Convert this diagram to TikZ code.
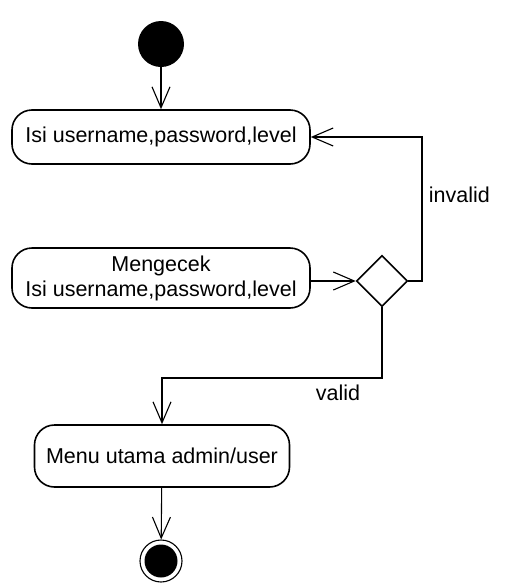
\documentclass[tikz,border=0pt]{standalone}
\usepackage{fontspec}
\setmainfont{Liberation Sans}
\usetikzlibrary{positioning,shapes.geometric,arrows.meta}

\begin{document}
\begin{tikzpicture}[x=1pt,y=-1pt,
                    actnode/.style={rectangle, rounded corners=20pt, draw=black, line width=1.6pt, minimum width=298pt, minimum height=54pt, align=center, font=\fontsize{21.5}{25}\selectfont},
                    decnode/.style={diamond, draw=black, line width=1.6pt, minimum size=51pt, inner sep=0pt},
                    flow/.style={line width=1.1pt, -{Straight Barb[length=21pt,width=18pt]}},
                    labelnode/.style={font=\fontsize{21.5}{25}\selectfont}]
                    \useasboundingbox (0,0) rectangle (519,584);
                    \node[circle, fill=black, minimum size=46pt, inner sep=0pt] (start) at (161,44) {};
                    \node[actnode] (isi) at (161,137) {Isi username,password,level};
                    \node[actnode, minimum height=60pt] (cek) at (161,278) {Mengecek\\Isi username,password,level};
                    \node[decnode] (cabang) at (382,281) {};
                    \node[actnode, minimum width=255pt, minimum height=62pt] (menu) at (162,456) {Menu utama admin/user};
                    \node[circle, draw=black, line width=1.1pt, minimum size=42pt, inner sep=0pt] (finish) at (161,561) {};
                    \node[circle, fill=black, minimum size=33pt, inner sep=0pt] (finishdot) at (finish) {};
                    \coordinate (balik) at (422,0);
                    \coordinate (belok) at (0,378);

                    \draw[flow] (start) -- (isi);
                    \draw[flow] (cek.east |- cabang) -- (cabang.west);
                    \draw[flow] (cabang.east) -| node[pos=0.8, right=3pt, labelnode] {invalid} (isi.east -| balik) -- (isi.east);
                    \draw[flow] (cabang.south) |- node[pos=0.6, below=3pt, labelnode] {valid} (belok -| menu.north) -- (menu.north);
                    \draw[flow] (menu) -- (finish);
                    \end{tikzpicture}
\end{document}
